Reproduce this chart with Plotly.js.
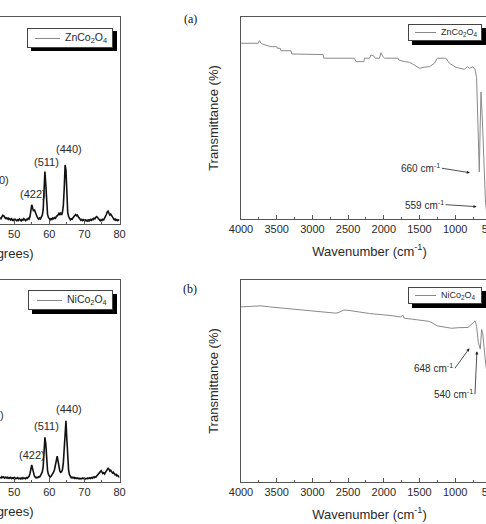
<!DOCTYPE html>
<html><head><meta charset="utf-8">
<script src="https://cdn.plot.ly/plotly-3.0.1.min.js"></script>
<style>
html,body{margin:0;padding:0;overflow:hidden;background:#fff;width:486px;height:524px;}
#plot{position:absolute;left:-200px;top:0;width:720px;height:524px;}
</style></head><body><div id="plot"></div>
<script>
// ---------- DATA ----------
const xrdTheta = [46.00,46.25,46.50,46.75,47.00,47.25,47.50,47.75,48.00,48.25,48.50,48.75,49.00,49.25,49.50,49.75,
50.00,50.25,50.50,50.75,51.00,51.25,51.50,51.75,52.00,52.25,52.50,52.75,53.00,53.25,53.50,53.75,
54.00,54.25,54.50,54.75,55.00,55.25,55.50,55.75,56.00,56.25,56.50,56.75,57.00,57.25,57.50,57.75,
58.00,58.25,58.50,58.75,59.00,59.25,59.50,59.75,60.00,60.25,60.50,60.75,61.00,61.25,61.50,61.75,
62.00,62.25,62.50,62.75,63.00,63.25,63.50,63.75,64.00,64.25,64.50,64.75,65.00,65.25,65.50,65.75,
66.00,66.25,66.50,66.75,67.00,67.25,67.50,67.75,68.00,68.25,68.50,68.75,69.00,69.25,69.50,69.75,
70.00,70.25,70.50,70.75,71.00,71.25,71.50,71.75,72.00,72.25,72.50,72.75,73.00,73.25,73.50,73.75,
74.00,74.25,74.50,74.75,75.00,75.25,75.50,75.75,76.00,76.25,76.50,76.75,77.00,77.25,77.50,77.75,
78.00,78.25,78.50,78.75,79.00,79.25,79.50,79.75,80.00];
const xrdZn = [3.2,2.6,3.5,4.2,4.0,3.3,2.7,3.0,2.4,2.9,2.2,2.6,2.0,2.5,1.8,2.2,
1.6,2.3,1.9,1.5,2.1,1.7,2.4,1.8,1.5,2.2,1.9,2.6,2.0,1.6,2.3,2.1,
2.8,2.4,3.6,6.5,9.3,7.8,6.2,7.0,5.4,4.3,3.5,2.8,2.3,2.9,2.5,3.4,
4.1,6.8,14.5,25.3,19.0,8.5,4.6,3.2,2.4,2.0,2.6,2.2,2.9,2.5,3.1,2.8,
3.6,3.9,4.4,5.2,4.6,5.5,4.4,5.6,9.0,17.0,28.5,26.0,12.5,5.5,3.6,2.6,
2.0,2.5,2.3,3.0,3.4,4.2,4.6,4.0,4.3,3.5,2.8,2.3,1.8,2.2,1.7,2.1,
1.6,2.0,1.5,1.9,1.4,2.0,1.6,2.2,1.8,2.4,2.1,2.8,2.5,3.2,3.6,3.1,
2.5,2.0,1.6,2.1,1.7,2.3,2.0,2.8,3.5,4.6,5.8,6.2,5.2,4.3,4.8,3.9,
3.3,2.6,2.0,2.4,1.8,2.1,1.6,2.0,1.8];
const xrdNi = [2.4,2.0,2.6,2.2,2.5,1.9,2.3,2.0,2.4,1.8,2.2,1.9,2.3,1.7,2.1,1.8,
2.2,1.6,2.0,1.7,2.1,1.6,1.9,1.5,2.0,1.6,2.1,1.7,2.0,1.6,2.2,1.9,
2.4,2.8,4.2,6.8,8.4,6.5,4.2,3.0,2.4,2.0,2.4,2.1,2.6,2.5,3.2,4.0,
5.0,7.5,14.0,22.1,19.0,10.5,5.6,3.8,2.8,2.4,2.8,3.4,4.1,5.0,6.3,8.8,
11.5,12.8,10.2,7.0,5.4,4.8,5.1,6.2,9.5,16.5,26.0,30.3,21.0,11.0,5.8,3.6,
2.6,2.1,2.4,2.0,2.3,1.8,2.1,1.7,2.0,1.6,1.9,1.5,1.8,1.6,2.0,1.7,
1.9,1.5,1.8,1.6,2.0,1.7,2.1,1.8,2.2,1.9,2.4,2.1,2.6,2.4,3.0,3.4,
3.8,4.4,5.0,5.6,4.8,4.2,4.6,4.0,4.8,5.6,6.2,6.8,6.3,5.4,5.8,4.9,
4.4,4.8,3.9,3.5,3.8,3.0,3.3,2.6,2.2];
const xrdPeakLabels = ["(400)","(422)","(511)","(440)"];
const xrdPeakThetaZn = [44.7,55.3,59.1,65.6];
const xrdPeakZnY = [21.3,14.5,30.0,36.2];
const xrdPeakThetaNi = [43.3,55.2,59.1,65.6];
const xrdPeakNiY = [33.0,13.3,27.7,36.0];
const seriesNames = ["ZnCo<sub>2</sub>O<sub>4</sub>", "NiCo<sub>2</sub>O<sub>4</sub>"];

const ftirWnZn = [4000,3800,3760,3740,3720,3700,3650,3580,3500,3490,3450,3440,3300,3290,2850,2840,2410,2390,2280,2270,2200,2180,2140,2120,2060,2040,2010,1990,1800,1790,1710,1640,1570,1500,1450,1360,1290,1250,1130,1080,990,870,830,800,750,720,700,685,662,650,638,620,595,575,559,540];
const ftirTZn  = [87.0,87.0,87.0,88.3,87.0,86.6,86.1,85.3,85.3,84.5,84.5,83.3,83.3,81.7,81.4,79.6,79.6,77.9,77.9,79.6,79.6,81.2,80.7,79.6,79.6,82.3,80.3,79.6,79.6,78.7,77.9,77.6,76.2,74.6,75.1,75.4,77.1,79.6,79.6,77.1,75.1,74.1,75.4,74.6,75.4,73.8,70.0,45.0,23.3,45.0,62.9,50.0,25.0,8.0,3.5,10.0];
const ftirWnNi = [4000,3800,3720,3600,3400,3100,2800,2680,2640,2560,2500,2200,1900,1760,1735,1715,1600,1430,1360,1250,1150,1050,950,860,820,780,740,720,700,675,648,630,615,590,568,540];
const ftirTNi  = [86.7,87.0,87.2,86.7,86.0,85.1,84.2,83.6,83.8,85.1,85.0,83.4,82.4,81.7,82.7,81.1,80.6,79.8,79.5,77.3,76.6,76.1,76.4,76.6,76.5,77.8,79.3,79.8,77.0,69.0,65.8,75.5,74.0,66.0,57.0,52.0];
const ftirLabelsZn = ["660 cm<sup>-1</sup>","559 cm<sup>-1</sup>"];
const ftirArrowWnZn = [793,699];
const ftirArrowTZn = [22.9,6.1];
const ftirLabelsNi = ["648 cm<sup>-1</sup>","540 cm<sup>-1</sup>"];
const ftirArrowWnNi = [800,695];
const ftirArrowTNi = [66.2,64.7];

// ---------- LAYOUT HELPERS ----------
const W = 720, H = 524, OFF = 200;
const px = x => (x + OFF) / W;
const py = y => 1 - y / H;
const FONT = "Liberation Sans, Arial, sans-serif";
const TXT = "#2a2a2a";
const LINE = "#555";

const traces = [
  {x: xrdTheta, y: xrdZn, xaxis: 'x', yaxis: 'y', name: seriesNames[0], mode: 'lines',
   line: {color: '#111', width: 1.6}},
  {x: ftirWnZn, y: ftirTZn, xaxis: 'x2', yaxis: 'y2', name: seriesNames[0], mode: 'lines',
   line: {color: '#8a8a8a', width: 1}},
  {x: xrdTheta, y: xrdNi, xaxis: 'x3', yaxis: 'y3', name: seriesNames[1], mode: 'lines',
   line: {color: '#111', width: 1.6}},
  {x: ftirWnNi, y: ftirTNi, xaxis: 'x4', yaxis: 'y4', name: seriesNames[1], mode: 'lines',
   line: {color: '#8a8a8a', width: 1}}
];

function xrdX(dom, anchor) {
  return {domain: dom, anchor: anchor, range: [10, 80], showgrid: false, zeroline: false,
    showline: true, mirror: true, linecolor: LINE, linewidth: 1,
    ticks: 'inside', ticklen: 4, tickcolor: LINE, dtick: 10, tick0: 0,
    minor: {ticks: 'inside', ticklen: 2, dtick: 5, tickcolor: LINE},
    tickfont: {family: FONT, size: 11, color: TXT}, ticklabeloverflow: 'allow',
    title: {text: '2θ (degrees)', font: {family: FONT, size: 13, color: TXT}, standoff: 9}};
}
function xrdY(dom, anchor) {
  return {domain: dom, anchor: anchor, range: [0, 100], showgrid: false, zeroline: false,
    showline: true, mirror: true, linecolor: LINE, linewidth: 1, ticks: '', showticklabels: false};
}
function ftX(dom, anchor) {
  return {domain: dom, anchor: anchor, range: [4000, 400], showgrid: false, zeroline: false,
    showline: true, mirror: true, linecolor: LINE, linewidth: 1,
    ticks: 'inside', ticklen: 4, tickcolor: LINE, dtick: 500, tick0: 0,
    minor: {ticks: 'inside', ticklen: 2, dtick: 250, tickcolor: LINE},
    tickfont: {family: FONT, size: 11, color: TXT}, ticklabeloverflow: 'allow',
    title: {text: 'Wavenumber (cm<sup>-1</sup>)', font: {family: FONT, size: 13, color: TXT}, standoff: 12}};
}
function ftY(dom, anchor) {
  return {domain: dom, anchor: anchor, range: [0, 100], showgrid: false, zeroline: false,
    showline: true, mirror: true, linecolor: LINE, linewidth: 1, ticks: '', showticklabels: false,
    title: {text: 'Transmittance (%)', font: {family: FONT, size: 13, color: TXT}, standoff: 18}};
}

// legend boxes drawn as annotation boxes (shadow box, white box, sample line, label)
const annotations = [];
function boxAnn(x0, y0, w, h, bg, bw, bc) {
  annotations.push({xref: 'paper', yref: 'paper', x: px(x0), y: py(y0), xanchor: 'left', yanchor: 'top',
    text: ' ', showarrow: false, width: w, height: h, bgcolor: bg, borderwidth: bw,
    bordercolor: bc, borderpad: 0, font: {size: 1, color: bg}});
}
function legendBox(x0, y0, x1, y1, lx0, lx1, tx, name, size) {
  const ym = (y0 + y1) / 2;
  boxAnn(x0 + 3.5, y0 + 3.5, x1 - x0, y1 - y0, '#000', 0, '#000');
  boxAnn(x0, y0, x1 - x0 - 2, y1 - y0 - 2, '#fff', 1, '#444');
  boxAnn(lx0, ym - 0.5, lx1 - lx0, 1, '#888', 0, '#888');
  annotations.push({xref: 'paper', yref: 'paper', x: px(tx), y: py(ym), xanchor: 'left', yanchor: 'middle',
    text: name, showarrow: false, font: {family: FONT, size: size, color: TXT}});
}
legendBox(27, 28, 113, 48, 35, 60, 63, seriesNames[0], 10.5);
legendBox(408, 24, 482, 41, 415, 436, 439, seriesNames[0], 9);
legendBox(28, 290, 113, 310, 37, 62, 65, seriesNames[1], 10.5);
legendBox(408, 287, 482, 304, 415, 436, 439, seriesNames[1], 9);

xrdPeakLabels.forEach((t, i) => {
  annotations.push({xref: 'x', yref: 'y', x: xrdPeakThetaZn[i], y: xrdPeakZnY[i], text: t, showarrow: false,
    xanchor: 'center', yanchor: 'middle', font: {family: FONT, size: 11, color: TXT}});
  annotations.push({xref: 'x3', yref: 'y3', x: xrdPeakThetaNi[i], y: xrdPeakNiY[i], text: t, showarrow: false,
    xanchor: 'center', yanchor: 'middle', font: {family: FONT, size: 11, color: TXT}});
});
const arrowOffsZn = [[-28, -4.5], [-31, -2]];
ftirLabelsZn.forEach((t, i) => {
  annotations.push({xref: 'x2', yref: 'y2', x: ftirArrowWnZn[i], y: ftirArrowTZn[i], text: t,
    showarrow: true, ax: arrowOffsZn[i][0], ay: arrowOffsZn[i][1], xanchor: 'right', yanchor: 'middle',
    arrowhead: 2, arrowsize: 0.8, arrowwidth: 0.8, arrowcolor: '#222', standoff: 0,
    font: {family: FONT, size: 10, color: TXT}});
});
const arrowOffsNi = [[-14.5, 20], [-2, 43]];
ftirLabelsNi.forEach((t, i) => {
  annotations.push({xref: 'x4', yref: 'y4', x: ftirArrowWnNi[i], y: ftirArrowTNi[i], text: t,
    showarrow: true, ax: arrowOffsNi[i][0], ay: arrowOffsNi[i][1], xanchor: 'right', yanchor: 'middle',
    arrowhead: 2, arrowsize: 0.8, arrowwidth: 0.8, arrowcolor: '#222', standoff: 0,
    font: {family: FONT, size: 10, color: TXT}});
});
annotations.push({xref: 'paper', yref: 'paper', x: px(190), y: py(19), text: '(a)', showarrow: false,
  xanchor: 'center', yanchor: 'middle',
  font: {family: 'Liberation Serif, Times New Roman, serif', size: 12, color: '#111'}});
annotations.push({xref: 'paper', yref: 'paper', x: px(190), y: py(289), text: '(b)', showarrow: false,
  xanchor: 'center', yanchor: 'middle',
  font: {family: 'Liberation Serif, Times New Roman, serif', size: 12, color: '#111'}});

const layout = {
  width: W, height: H, margin: {l: 0, r: 0, t: 0, b: 0},
  paper_bgcolor: '#fff', plot_bgcolor: '#fff', showlegend: false,
  xaxis: xrdX([px(-126.2), px(119.5)], 'y'), yaxis: xrdY([py(224), py(17)], 'x'),
  xaxis2: ftX([px(241), px(498)], 'y2'), yaxis2: ftY([py(219), py(17)], 'x2'),
  xaxis3: xrdX([px(-126.2), px(119.5)], 'y3'), yaxis3: xrdY([py(482), py(280)], 'x3'),
  xaxis4: ftX([px(241), px(498)], 'y4'), yaxis4: ftY([py(482), py(280)], 'x4'),
  annotations: annotations
};

Plotly.newPlot('plot', traces, layout, {staticPlot: true, displayModeBar: false});
</script></body></html>
